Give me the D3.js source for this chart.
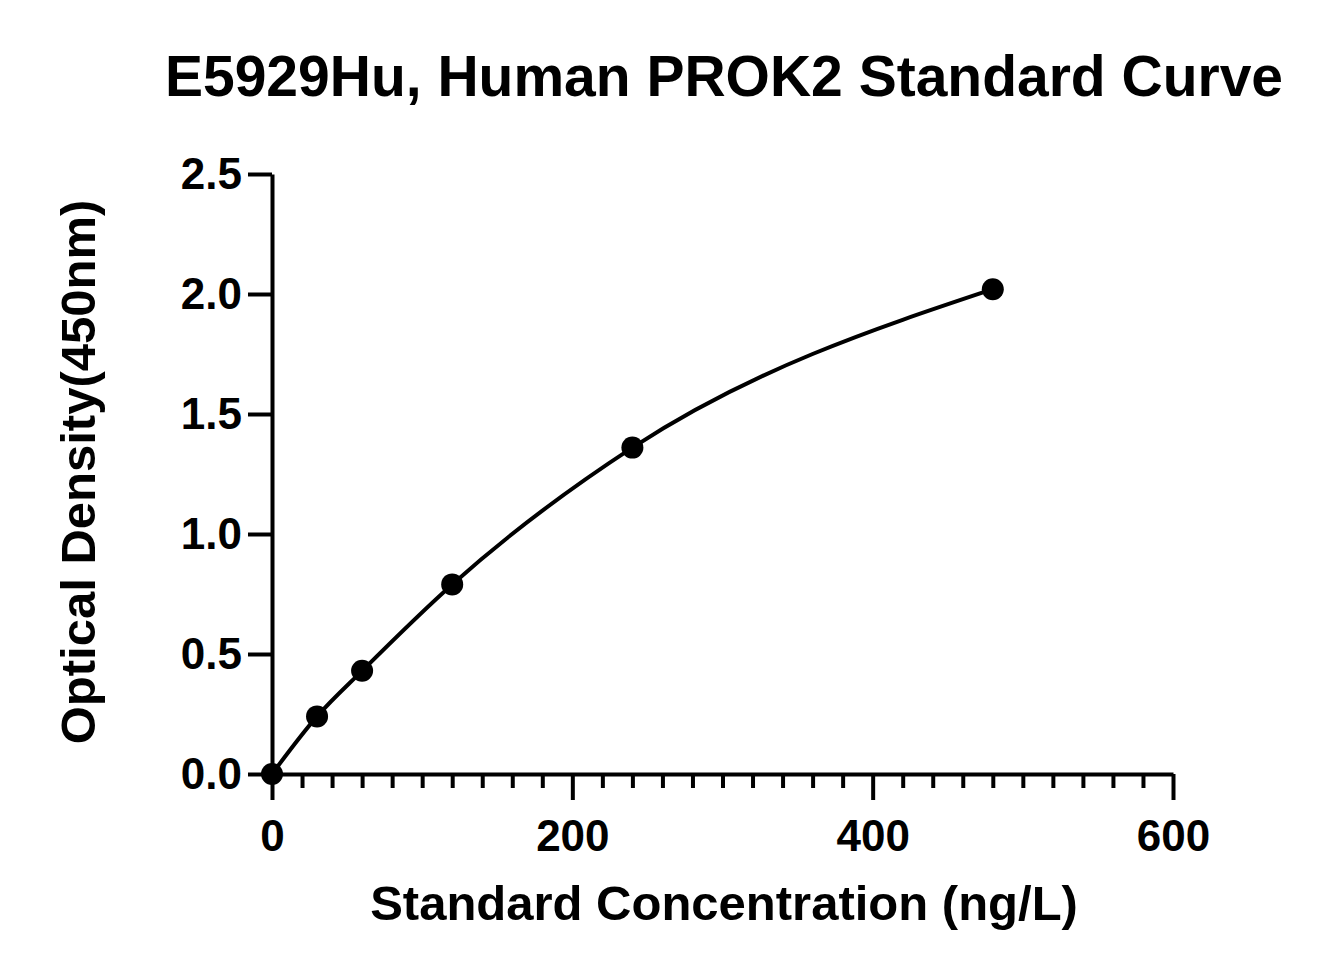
<!DOCTYPE html>
<html><head><meta charset="utf-8">
<script src="https://cdn.jsdelivr.net/npm/d3@7"></script>
<style>body{margin:0;background:#fff}text{font-family:"Liberation Sans",Arial,sans-serif;font-weight:bold;fill:#000}</style>
</head><body><svg id="c" width="1335" height="975"></svg>
<script>
const concentrations=[0,30,60,120,240,480];
const odValues=[0.0,0.24,0.43,0.79,1.36,2.02];
const xTicks=[0,200,400,600];
const yTicks=[0,0.5,1.0,1.5,2.0,2.5];
const title="E5929Hu, Human PROK2 Standard Curve";
const xLabel="Standard Concentration (ng/L)";
const yLabel="Optical Density(450nm)";

const svg=d3.select("#c");
const x=d3.scaleLinear().domain([0,600]).range([272,1173]);
const y=d3.scaleLinear().domain([0,2.5]).range([774,174]);

svg.append("text").attr("x",724).attr("y",96).attr("text-anchor","middle").attr("font-size",57).text(title);
svg.append("text").attr("x",724).attr("y",920).attr("text-anchor","middle").attr("font-size",49).text(xLabel);
svg.append("text").attr("transform","translate(95,472) rotate(-90)").attr("text-anchor","middle").attr("font-size",49).text(yLabel);

const xa=svg.append("g").attr("transform","translate(0,774)")
 .call(d3.axisBottom(x).tickValues(d3.range(0,601,20)).tickSize(14).tickSizeOuter(0).tickFormat(d=>xTicks.includes(d)?d:""));
xa.selectAll(".tick").filter(d=>xTicks.includes(d)).select("line").attr("y2",26);
xa.selectAll(".tick text").attr("y",46).attr("font-size",44).attr("font-family","Liberation Sans, Arial").attr("font-weight","bold").attr("fill","#000");
const ya=svg.append("g").attr("transform","translate(272,0)")
 .call(d3.axisLeft(y).tickValues(yTicks).tickSize(24).tickSizeOuter(0).tickFormat(d3.format(".1f")));
ya.selectAll(".tick text").attr("x",-30).attr("font-size",44).attr("font-family","Liberation Sans, Arial").attr("font-weight","bold").attr("fill","#000");
svg.selectAll(".domain,.tick line").attr("stroke","#000").attr("stroke-width",4);

const pts=concentrations.map((c,i)=>[c,odValues[i]]);
svg.append("path").datum(pts).attr("fill","none").attr("stroke","#000").attr("stroke-width",4)
 .attr("d",d3.line().x(d=>x(d[0])).y(d=>y(d[1])).curve(d3.curveMonotoneX));
svg.selectAll("circle").data(pts).join("circle").attr("cx",d=>x(d[0])).attr("cy",d=>y(d[1])).attr("r",11).attr("fill","#000");
</script></body></html>
